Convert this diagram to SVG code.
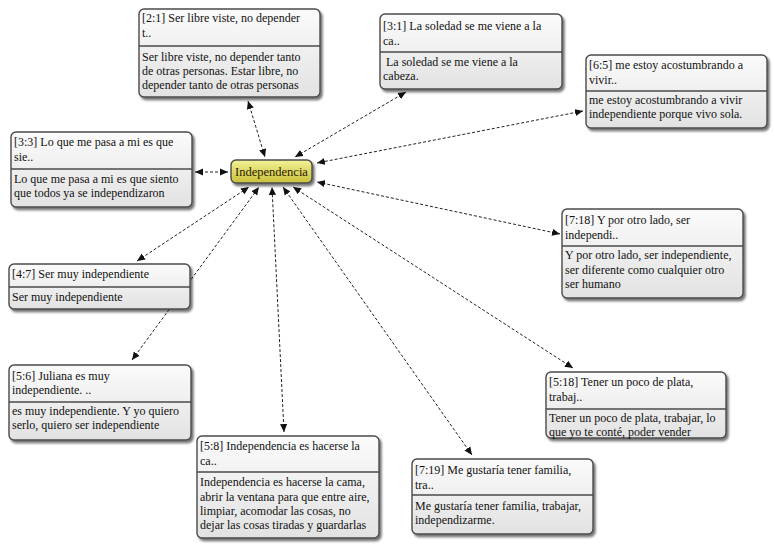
<svg xmlns="http://www.w3.org/2000/svg" width="775" height="548" viewBox="0 0 775 548">
<defs>
<linearGradient id="gNode" x1="0" y1="0" x2="0" y2="1">
<stop offset="0" stop-color="#fbfbfb"/>
<stop offset="1" stop-color="#e2e2e2"/>
</linearGradient>
<linearGradient id="gCenter" x1="0" y1="0" x2="0" y2="1">
<stop offset="0" stop-color="#f3f195"/>
<stop offset="1" stop-color="#c8c03a"/>
</linearGradient>
<filter id="sh" x="-10%" y="-10%" width="125%" height="130%">
<feDropShadow dx="2" dy="2.5" stdDeviation="1.3" flood-color="#000" flood-opacity="0.55"/>
</filter>
<marker id="ah" viewBox="0 0 10 10" refX="10" refY="5" markerWidth="8" markerHeight="8" markerUnits="userSpaceOnUse" orient="auto-start-reverse">
<path d="M0,0.5 L10,5 L0,9.5 Z" fill="#111"/>
</marker>
</defs>
<style>
.box{fill:url(#gNode);stroke:#4a4a4a;stroke-width:1.4;filter:url(#sh)}
.sep{stroke:#4a4a4a;stroke-width:1.4}
.t{font-family:"Liberation Serif","Times New Roman",serif;font-size:12px;fill:#111}
.c{font-family:"Liberation Serif","Times New Roman",serif;font-size:12.5px;fill:#2a2000}
.con{stroke:#222;stroke-width:1;stroke-dasharray:3 2;fill:none;marker-start:url(#ah);marker-end:url(#ah)}
</style>
<rect width="775" height="548" fill="#fff"/>
<g id="connectors">
<line class="con" x1="248" y1="101" x2="265" y2="157"/>
<line class="con" x1="406" y1="92" x2="295" y2="157"/>
<line class="con" x1="583" y1="111" x2="317" y2="163"/>
<line class="con" x1="195" y1="172" x2="228" y2="172"/>
<line class="con" x1="560" y1="234" x2="317" y2="182"/>
<line class="con" x1="137" y1="261" x2="249" y2="187"/>
<line class="con" x1="132" y1="360" x2="259" y2="187"/>
<line class="con" x1="284" y1="432" x2="272" y2="187"/>
<line class="con" x1="472" y1="455" x2="283" y2="187"/>
<line class="con" x1="573" y1="368" x2="293" y2="187"/>
</g>
<g id="n-center">
<rect x="231" y="160" width="81" height="23" rx="5" fill="url(#gCenter)" stroke="#4a4a4a" stroke-width="1.4" filter="url(#sh)"/>
<text class="c" x="271.5" y="176" text-anchor="middle">Independencia</text>
</g>
<g id="n-2-1">
<rect class="box" x="139" y="9" width="181" height="88" rx="5"/>
<line class="sep" x1="139" y1="46" x2="320" y2="46"/>
<text class="t" x="142" y="22">[2:1] Ser libre viste, no depender</text>
<text class="t" x="142" y="37">t..</text>
<text class="t" x="142" y="61">Ser libre viste, no depender tanto</text>
<text class="t" x="142" y="75">de otras personas. Estar libre, no</text>
<text class="t" x="142" y="89">depender tanto de otras personas</text>
</g>
<g id="n-3-1">
<rect class="box" x="380" y="14" width="182" height="75" rx="5"/>
<line class="sep" x1="380" y1="52" x2="562" y2="52"/>
<text class="t" x="383" y="30">[3:1] La soledad se me viene a la</text>
<text class="t" x="383" y="45">ca..</text>
<text class="t" x="386" y="66">La soledad se me viene a la</text>
<text class="t" x="383" y="80">cabeza.</text>
</g>
<g id="n-6-5">
<rect class="box" x="586" y="55" width="181" height="73" rx="5"/>
<line class="sep" x1="586" y1="91" x2="767" y2="91"/>
<text class="t" x="589" y="69">[6:5] me estoy acostumbrando a</text>
<text class="t" x="589" y="84">vivir..</text>
<text class="t" x="589" y="104">me estoy acostumbrando a vivir</text>
<text class="t" x="589" y="118">independiente porque vivo sola.</text>
</g>
<g id="n-3-3">
<rect class="box" x="11" y="132" width="181" height="75" rx="5"/>
<line class="sep" x1="11" y1="169" x2="192" y2="169"/>
<text class="t" x="14" y="146">[3:3] Lo que me pasa a mi es que</text>
<text class="t" x="14" y="161">sie..</text>
<text class="t" x="14" y="183">Lo que me pasa a mi es que siento</text>
<text class="t" x="14" y="197">que todos ya se independizaron</text>
</g>
<g id="n-4-7">
<rect class="box" x="9" y="264" width="181" height="45" rx="5"/>
<line class="sep" x1="9" y1="287" x2="190" y2="287"/>
<text class="t" x="12" y="278">[4:7] Ser muy independiente</text>
<text class="t" x="12" y="301">Ser muy independiente</text>
</g>
<g id="n-7-18">
<rect class="box" x="562" y="209" width="181" height="89" rx="5"/>
<line class="sep" x1="562" y1="246" x2="743" y2="246"/>
<text class="t" x="565" y="224">[7:18] Y por otro lado, ser</text>
<text class="t" x="565" y="239">independi..</text>
<text class="t" x="565" y="259">Y por otro lado, ser independiente,</text>
<text class="t" x="565" y="274">ser diferente como cualquier otro</text>
<text class="t" x="565" y="288">ser humano</text>
</g>
<g id="n-5-18">
<rect class="box" x="546" y="372" width="180" height="66" rx="5"/>
<line class="sep" x1="546" y1="409" x2="726" y2="409"/>
<text class="t" x="549" y="386">[5:18] Tener un poco de plata,</text>
<text class="t" x="549" y="401">trabaj..</text>
<text class="t" x="549" y="422">Tener un poco de plata, trabajar, lo</text>
<text class="t" x="549" y="436">que yo te conté, poder vender</text>
</g>
<g id="n-5-6">
<rect class="box" x="9" y="365" width="182" height="75" rx="5"/>
<line class="sep" x1="9" y1="402" x2="191" y2="402"/>
<text class="t" x="12" y="380">[5:6] Juliana es muy</text>
<text class="t" x="12" y="394">independiente. ..</text>
<text class="t" x="12" y="415">es muy independiente. Y yo quiero</text>
<text class="t" x="12" y="429">serlo, quiero ser independiente</text>
</g>
<g id="n-5-8">
<rect class="box" x="197" y="436" width="182" height="102" rx="5"/>
<line class="sep" x1="197" y1="472" x2="379" y2="472"/>
<text class="t" x="200" y="450">[5:8] Independencia es hacerse la</text>
<text class="t" x="200" y="465">ca..</text>
<text class="t" x="200" y="486">Independencia es hacerse la cama,</text>
<text class="t" x="200" y="501">abrir la ventana para que entre aire,</text>
<text class="t" x="200" y="515">limpiar, acomodar las cosas, no</text>
<text class="t" x="200" y="529">dejar las cosas tiradas y guardarlas</text>
</g>
<g id="n-7-19">
<rect class="box" x="412" y="459" width="181" height="75" rx="5"/>
<line class="sep" x1="412" y1="495" x2="593" y2="495"/>
<text class="t" x="415" y="474">[7:19] Me gustaría tener familia,</text>
<text class="t" x="415" y="489">tra..</text>
<text class="t" x="415" y="510">Me gustaría tener familia, trabajar,</text>
<text class="t" x="415" y="524">independizarme.</text>
</g>
</svg>
